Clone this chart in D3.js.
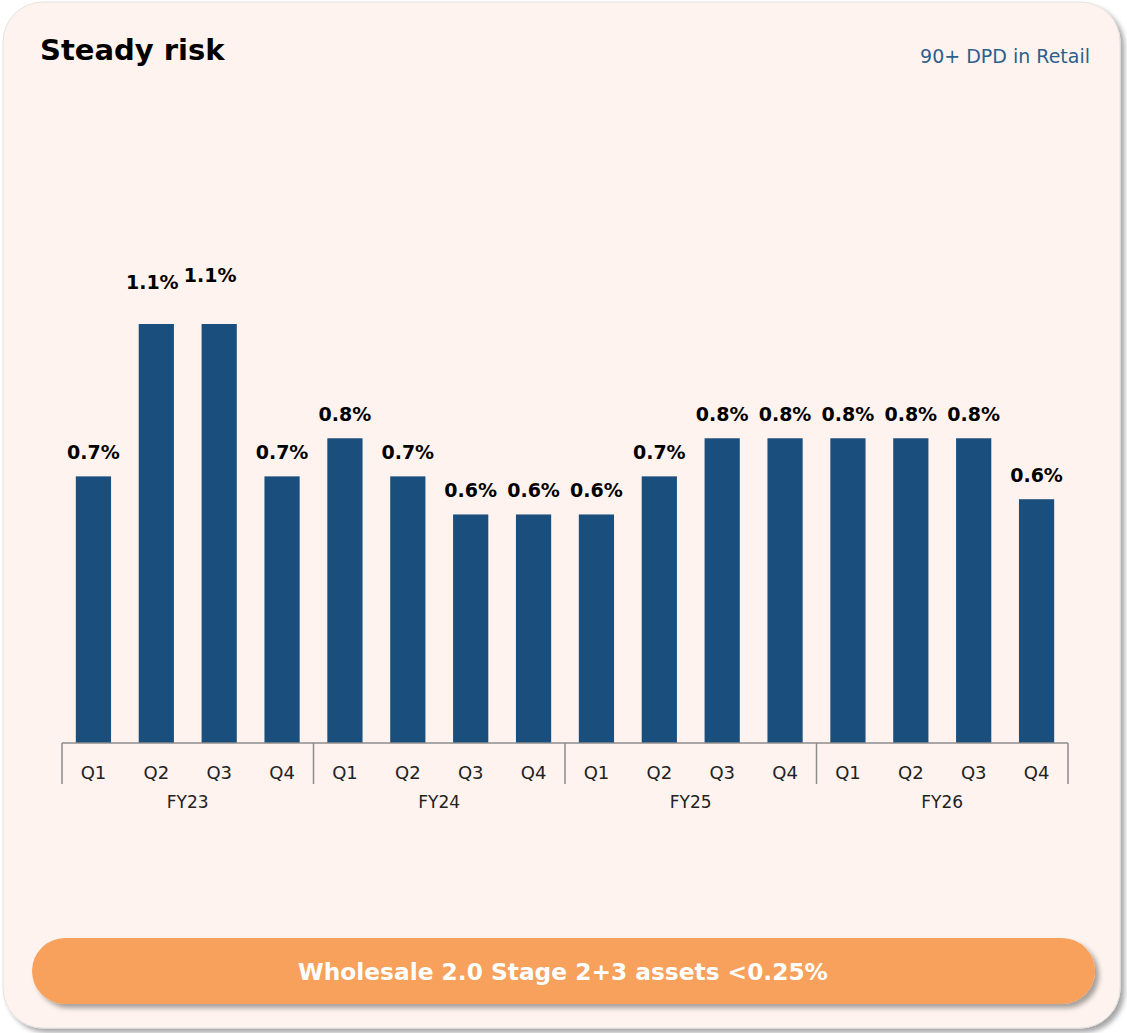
<!DOCTYPE html>
<html>
<head>
<meta charset="utf-8">
<script src="https://cdn.jsdelivr.net/npm/d3@7"></script>
<style>
  body { margin: 0; background: #ffffff; }
  svg { display: block; }
</style>
</head>
<body>
<svg id="plot"></svg>
<script>
// Data
const years = ["FY23", "FY24", "FY25", "FY26"];
const quarters = ["Q1", "Q2", "Q3", "Q4"];
const npa = [0.70, 1.10, 1.10, 0.70, 0.80, 0.70, 0.60, 0.60, 0.60, 0.70, 0.80, 0.80, 0.80, 0.80, 0.80, 0.64];

const rows = [];
years.forEach((y, i) => quarters.forEach((q, j) => {
  rows.push({ key: y + q, year: y, q: q, value: npa[i * 4 + j] });
}));

let width = 1127, height = 1033;
let margin = { top: 100, bottom: 290, left: 62, right: 59 };

const font = '"DejaVu Sans", sans-serif';

let svg = d3.select('#plot')
  .attr('width', width)
  .attr('height', height);

const defs = svg.append('defs');
const sh = defs.append('filter').attr('id', 'shadow')
  .attr('x', '-5%').attr('y', '-5%').attr('width', '115%').attr('height', '130%');
sh.append('feDropShadow').attr('dx', 4).attr('dy', 4).attr('stdDeviation', 2.5)
  .attr('flood-color', '#000').attr('flood-opacity', 0.35);

// card
svg.append('rect')
  .attr('x', 3).attr('y', 2)
  .attr('width', 1117).attr('height', 1026)
  .attr('rx', 40)
  .attr('fill', '#fef3ee')
  .attr('stroke', '#e6e2df')
  .attr('filter', 'url(#shadow)');

// titles
svg.append('text')
  .attr('x', 40).attr('y', 60)
  .style('font-family', font)
  .style('font-weight', 700)
  .style('font-size', '29px')
  .attr('fill', '#000')
  .text('Steady risk');

svg.append('text')
  .attr('x', 1090).attr('y', 63)
  .attr('text-anchor', 'end')
  .style('font-family', font)
  .style('font-size', '19px')
  .attr('fill', '#2e5f8c')
  .text('90+ DPD in Retail');

// scales
let xScale = d3.scaleBand()
  .domain(rows.map(d => d.key))
  .range([margin.left, width - margin.right])
  .paddingInner(0.44)
  .paddingOuter(0.22);

let yScale = d3.scaleLinear()
  .domain([0, 1.1])
  .range([height - margin.bottom, height - margin.bottom - 419]);

const base = yScale(0);

// bars
svg.selectAll('rect.bar')
  .data(rows)
  .enter()
  .append('rect')
  .attr('class', 'bar')
  .attr('x', d => xScale(d.key))
  .attr('y', d => yScale(d.value))
  .attr('width', xScale.bandwidth())
  .attr('height', d => base - yScale(d.value))
  .attr('fill', '#1a4e7c');

// value labels (the two 1.1% labels are nudged like the original)
const nudge = { FY23Q2: [-4, -18], FY23Q3: [-9, -25] };
svg.selectAll('text.val')
  .data(rows)
  .enter()
  .append('text')
  .attr('class', 'val')
  .attr('x', d => xScale(d.key) + xScale.bandwidth() / 2 + (nudge[d.key] ? nudge[d.key][0] : 0))
  .attr('y', d => yScale(d.value) - 17 + (nudge[d.key] ? nudge[d.key][1] : 0))
  .attr('text-anchor', 'middle')
  .style('font-family', font)
  .style('font-weight', 700)
  .style('font-size', '19px')
  .attr('fill', '#000')
  .text(d => d3.format('.1f')(d.value) + '%');

// axis: baseline + group separators
const x0 = margin.left, x1 = width - margin.right;
const axis = svg.append('g').attr('stroke', '#8c8c8c').attr('stroke-width', 1.5);
axis.append('line').attr('x1', x0).attr('x2', x1).attr('y1', base).attr('y2', base);

const groupEdges = d3.range(years.length + 1).map(i => x0 + (x1 - x0) * i / years.length);
axis.selectAll('line.sep')
  .data(groupEdges)
  .enter()
  .append('line')
  .attr('class', 'sep')
  .attr('x1', d => d).attr('x2', d => d)
  .attr('y1', base).attr('y2', base + 41);

svg.selectAll('text.q')
  .data(rows)
  .enter()
  .append('text')
  .attr('class', 'q')
  .attr('x', d => xScale(d.key) + xScale.bandwidth() / 2)
  .attr('y', base + 36)
  .attr('text-anchor', 'middle')
  .style('font-family', font)
  .style('font-size', '18px')
  .attr('fill', '#222')
  .text(d => d.q);

svg.selectAll('text.fy')
  .data(years)
  .enter()
  .append('text')
  .attr('class', 'fy')
  .attr('x', (d, i) => (groupEdges[i] + groupEdges[i + 1]) / 2)
  .attr('y', base + 65)
  .attr('text-anchor', 'middle')
  .style('font-family', font)
  .style('font-size', '17px')
  .attr('fill', '#222')
  .text(d => d);

// bottom pill
svg.append('rect')
  .attr('x', 32).attr('y', 938)
  .attr('width', 1063).attr('height', 66)
  .attr('rx', 33)
  .attr('fill', '#f8a15c')
  .attr('filter', 'url(#shadow)');

svg.append('text')
  .attr('x', 563).attr('y', 980)
  .attr('text-anchor', 'middle')
  .style('font-family', font)
  .style('font-weight', 700)
  .style('font-size', '23.3px')
  .attr('fill', '#fff')
  .text('Wholesale 2.0 Stage 2+3 assets <0.25%');
</script>
</body>
</html>
